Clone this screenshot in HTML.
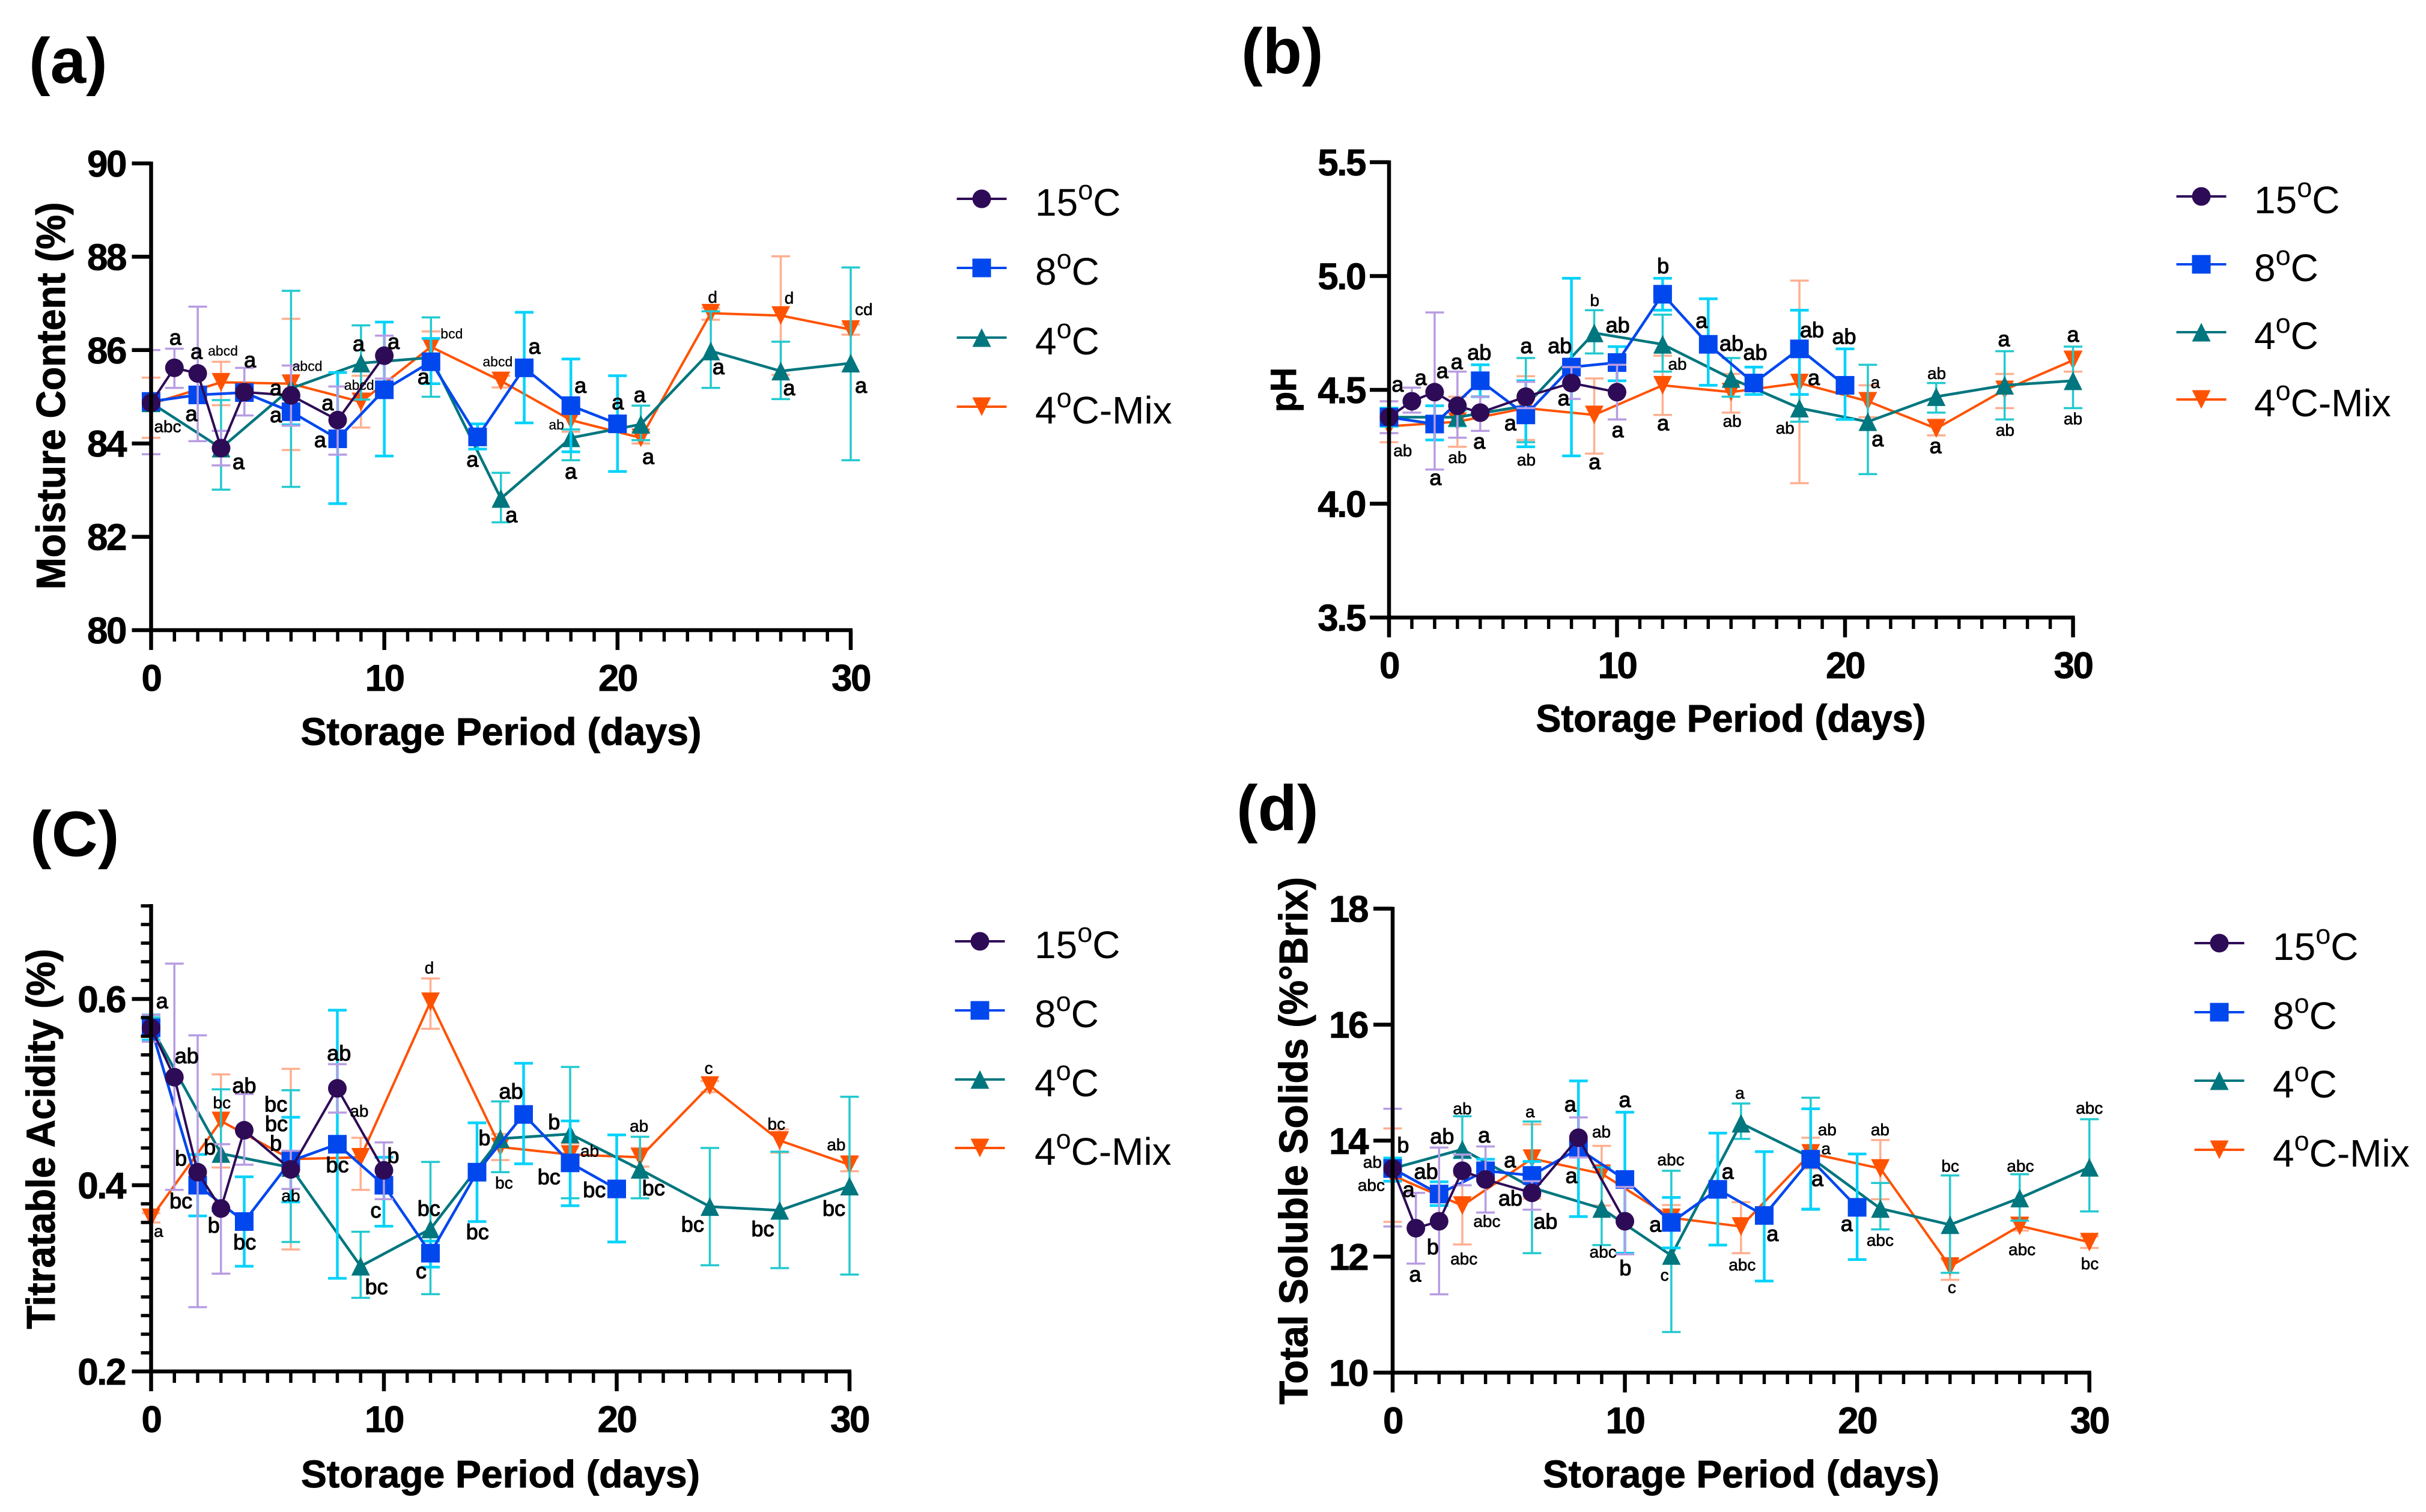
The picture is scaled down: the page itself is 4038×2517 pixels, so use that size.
<!DOCTYPE html>
<html lang="en">
<head>
<meta charset="utf-8">
<title>Storage period charts</title>
<style>
html,body{margin:0;padding:0;background:#fff;}
svg{display:block;}
text{font-family:"Liberation Sans",Arial,sans-serif;fill:#000;}
.tick{font-weight:700;font-size:62px;letter-spacing:-2.5px;stroke:#000;stroke-width:.8px;}
.title{font-weight:700;font-size:64px;stroke:#000;stroke-width:1px;}
.panel{font-weight:700;font-size:107px;}
.legend{font-size:64px;}
.t1{font-size:36px;stroke:#000;stroke-width:1.1px;}
.t2{font-size:28px;stroke:#000;stroke-width:.6px;}
.t3{font-size:23px;stroke:#000;stroke-width:.25px;}
</style>
</head>
<body>
<svg id="figure" xmlns="http://www.w3.org/2000/svg" width="4038" height="2517" viewBox="0 0 4038 2517">
<rect width="4038" height="2517" fill="#fff"/>
<text class="panel" x="48" y="138">(a)</text>
<text class="panel" x="2066" y="122">(b)</text>
<text class="panel" x="50" y="1425">(C)</text>
<text class="panel" x="2058" y="1382">(d)</text>
</svg>
<script>
// Sampling days per series
const days15 = [0,1,2,3,4,6,8,10];
const days8 = [0,2,4,6,8,10,12,14,16,18,20];
const days4 = [0,3,6,9,12,15,18,21,24,27,30];
const daysMix = [0,3,6,9,12,15,18,21,24,27,30];
const seriesNames = ['15','8','4','Mix'];
const legendLabels = ['15','8','4','4'];

// Moisture content
const moisture15 = [84.87,85.62,85.5,83.9,85.1,85.03,84.5,85.88];
const moisture15Hi = [86.0,86.03,86.93,84.27,85.62,85.67,85.22,86.31];
const moisture15Lo = [83.77,85.19,84.05,83.53,84.6,84.38,83.76,85.39];
const moisture8 = [84.9,85.04,85.09,84.68,84.1,85.15,85.75,84.14,85.62,84.81,84.42];
const moisture8Hi = [85.05,85.2,85.2,84.95,85.52,86.6,86.25,84.42,86.81,85.81,85.45];
const moisture8Lo = [84.75,84.88,84.98,84.4,82.71,83.73,85.28,83.88,84.44,83.82,83.4];
const moisture4 = [84.87,83.9,85.18,85.72,85.84,82.82,84.12,84.41,85.98,85.55,85.72];
const moisture4Hi = [85.0,84.93,87.27,86.53,86.7,83.37,84.3,84.81,86.83,86.18,87.77];
const moisture4Lo = [84.7,83.01,83.07,84.94,85.0,82.31,83.64,84.07,85.19,84.95,83.64];
const moistureMix = [84.85,85.31,85.28,84.89,86.07,85.34,84.5,84.12,86.79,86.74,86.44];
const moistureMixHi = [85.41,85.75,86.67,85.45,86.4,85.45,84.75,84.25,86.9,88.01,86.55];
const moistureMixLo = [84.12,84.82,83.86,84.34,85.72,85.2,84.25,84.0,86.65,85.47,86.33];
const moistureTicks = [80,82,84,86,88,90];
const moistureNotes = [
[1.04,86.25,'a',1],[1.95,85.95,'a',1],[3.08,85.97,'abcd',3],[4.24,85.77,'a',1],[5.35,85.17,'a',1],[6.7,85.64,'abcd',3],[7.57,84.85,'a',1],[8.92,85.24,'abcd',3],[8.9,86.12,'a',1],[10.4,86.16,'a',1],[11.68,85.41,'a',1],[12.89,86.34,'bcd',3],[16.44,86.06,'a',1],[14.86,85.74,'abcd',3],[18.41,85.22,'a',1],[20.01,84.87,'a',1],[20.95,85.02,'a',1],[17.38,84.39,'ab',3],[24.08,87.12,'d',2],[27.36,87.1,'d',2],[30.56,86.86,'cd',2],[24.33,85.62,'a',1],[27.36,85.17,'a',1],[30.44,85.22,'a',1],[21.32,83.7,'a',1],[18,83.38,'a',1],[13.78,83.64,'a',1],[15.45,82.45,'a',1],[7.25,84.06,'a',1],[5.35,84.59,'a',1],[1.73,84.62,'a',1],[3.75,83.59,'a',1],[0.71,84.35,'abc',2]];

// pH
const ph15 = [4.38,4.45,4.49,4.43,4.40,4.47,4.53,4.49];
const ph15Hi = [4.45,4.51,4.84,4.58,4.47,4.535,4.60,4.61];
const ph15Lo = [4.31,4.40,4.15,4.29,4.32,4.42,4.46,4.37];
const ph8 = [4.38,4.35,4.54,4.39,4.60,4.62,4.92,4.70,4.53,4.68,4.52];
const ph8Hi = [4.42,4.43,4.61,4.54,4.99,4.69,4.99,4.90,4.60,4.85,4.68];
const ph8Lo = [4.34,4.28,4.47,4.25,4.21,4.54,4.85,4.52,4.48,4.48,4.37];
const ph4 = [4.38,4.38,4.43,4.75,4.70,4.55,4.42,4.36,4.47,4.52,4.54];
const ph4Hi = [4.41,4.41,4.64,4.85,4.83,4.64,4.48,4.61,4.53,4.67,4.69];
const ph4Lo = [4.35,4.34,4.27,4.66,4.58,4.47,4.36,4.13,4.40,4.37,4.42];
const phMix = [4.34,4.36,4.42,4.39,4.52,4.49,4.53,4.45,4.33,4.50,4.63];
const phMixHi = [4.38,4.47,4.56,4.55,4.65,4.57,4.98,4.52,4.37,4.57,4.67];
const phMixLo = [4.27,4.25,4.28,4.22,4.39,4.40,4.09,4.38,4.30,4.42,4.58];
const phTicks = ['3.5','4.0','4.5','5.0','5.5'];
const phNotes = [
[0.38,4.52,'a',1],[1.39,4.55,'a',1],[2.34,4.58,'a',1],[2.97,4.62,'a',1],[3.96,4.66,'ab',1],[6.02,4.69,'a',1],[7.49,4.69,'ab',1],[9.02,4.89,'b',2],[10.03,4.78,'ab',1],[12.02,5.04,'b',1],[13.71,4.80,'a',1],[15.02,4.70,'ab',1],[16.06,4.66,'ab',1],[18.55,4.76,'ab',1],[18.63,4.55,'a',1],[19.96,4.73,'ab',1],[21.33,4.53,'a',2],[24.02,4.57,'ab',2],[26.97,4.72,'a',1],[30,4.74,'a',1],[12.65,4.61,'ab',2],[0.6,4.23,'ab',2],[3,4.2,'ab',2],[2.04,4.11,'a',1],[3.96,4.27,'a',1],[6.02,4.19,'ab',2],[5.32,4.35,'a',1],[7.66,4.46,'a',1],[9.02,4.18,'a',1],[10.03,4.32,'a',1],[12.02,4.35,'a',1],[15.05,4.36,'ab',2],[17.37,4.33,'ab',2],[21.43,4.28,'a',1],[23.97,4.25,'a',1],[27.02,4.32,'ab',2],[30,4.37,'ab',2]];

// Titratable acidity
const acid15 = [0.569,0.516,0.414,0.375,0.459,0.417,0.504,0.416];
const acid15Hi = [0.583,0.638,0.561,0.444,0.498,0.437,0.53,0.446];
const acid15Lo = [0.554,0.395,0.269,0.305,0.422,0.396,0.478,0.385];
const acid8 = [0.569,0.40,0.361,0.426,0.444,0.40,0.327,0.414,0.476,0.424,0.396];
const acid8Hi = [0.583,0.433,0.409,0.473,0.588,0.43,0.34,0.467,0.531,0.469,0.454];
const acid8Lo = [0.556,0.367,0.313,0.382,0.30,0.356,0.312,0.361,0.423,0.378,0.339];
const acid4 = [0.57,0.434,0.419,0.313,0.353,0.45,0.455,0.417,0.377,0.373,0.399];
const acid4Hi = [0.58,0.503,0.502,0.35,0.425,0.49,0.527,0.452,0.44,0.436,0.495];
const acid4Lo = [0.56,0.372,0.339,0.279,0.283,0.414,0.386,0.386,0.314,0.311,0.304];
const acidMix = [0.365,0.469,0.428,0.43,0.597,0.441,0.433,0.43,0.507,0.448,0.422];
const acidMixHi = [0.37,0.519,0.525,0.451,0.622,0.455,0.445,0.44,0.512,0.46,0.43];
const acidMixLo = [0.36,0.419,0.331,0.395,0.568,0.427,0.42,0.42,0.5,0.435,0.415];
const acidTicks = ['0.2','0.4','0.6'];
const acidNotes = [
[0.47,0.597,'a',1],[1.53,0.538,'ab',1],[3.04,0.488,'bc',2],[4,0.506,'ab',1],[5.36,0.486,'bc',1],[5.38,0.465,'bc',1],[5.36,0.444,'b',1],[2.52,0.44,'b',1],[1.28,0.428,'b',1],[8.07,0.541,'ab',1],[8.94,0.479,'ab',2],[10.4,0.431,'b',1],[11.95,0.633,'d',2],[15.46,0.5,'ab',1],[15.16,0.402,'bc',2],[14.32,0.45,'b',1],[17.31,0.467,'b',1],[18.84,0.436,'ab',2],[17.09,0.408,'bc',1],[19.04,0.394,'bc',1],[20.96,0.463,'ab',2],[21.58,0.396,'bc',1],[23.95,0.525,'c',2],[26.86,0.465,'bc',2],[29.43,0.443,'ab',2],[23.26,0.357,'bc',1],[26.27,0.352,'bc',1],[29.33,0.374,'bc',1],[11.93,0.374,'bc',1],[14.02,0.349,'bc',1],[11.6,0.307,'c',1],[9.68,0.29,'bc',1],[9.65,0.372,'c',1],[8,0.421,'bc',1],[6,0.388,'ab',2],[4.02,0.338,'bc',1],[2.69,0.356,'b',1],[1.28,0.382,'bc',1],[0.32,0.35,'a',2]];

// Total soluble solids
const solids15 = [13.52,12.49,12.61,13.48,13.33,13.1,14.05,12.61];
const solids15Hi = [14.55,13.1,13.88,13.76,13.9,13.3,14.4,13.2];
const solids15Lo = [12.52,11.88,11.35,13.23,12.76,12.81,13.71,12.04];
const solids8 = [13.52,13.08,13.48,13.4,13.86,13.33,12.59,13.16,12.71,13.68,12.85];
const solids8Hi = [13.7,13.29,13.68,13.64,15.03,14.49,13.02,14.13,13.81,14.55,13.77];
const solids8Lo = [13.3,12.88,13.3,13.15,12.69,12.06,12.15,12.2,11.58,12.82,11.95];
const solids4 = [13.52,13.85,13.19,12.83,12.02,14.3,13.71,12.83,12.55,13.01,13.54];
const solids4Hi = [13.7,14.42,14.33,13.54,13.48,14.64,14.74,13.27,13.4,13.42,14.37];
const solids4Lo = [13.3,13.7,12.06,12.2,10.7,14.03,12.81,12.47,11.72,12.62,12.78];
const solidsMix = [13.4,12.88,13.69,13.43,12.67,12.52,13.78,13.52,11.83,12.53,12.25];
const solidsMixHi = [14.21,13.4,14.28,13.91,12.89,12.94,14.05,14.01,11.95,12.67,12.35];
const solidsMixLo = [12.6,12.21,13.0,12.88,12.45,12.06,13.52,12.99,11.6,12.45,12.15];
const solidsTicks = [10,12,14,16,18];
const solidsNotes = [
[0.45,13.91,'b',1],[-0.87,13.62,'ab',2],[-0.92,13.22,'abc',2],[0.69,13.14,'a',1],[1.44,13.45,'ab',1],[2.13,14.06,'ab',1],[3,14.54,'ab',2],[3.94,14.08,'a',1],[5.05,13.65,'a',1],[5.92,14.49,'a',2],[7.65,14.61,'a',1],[8.99,14.14,'ab',2],[10,14.69,'a',1],[7.7,13.38,'a',1],[5.07,12.99,'ab',1],[6.58,12.59,'ab',1],[4.06,12.6,'abc',2],[3.07,11.95,'abc',2],[1.73,12.15,'b',1],[0.97,11.68,'a',1],[9.06,12.07,'abc',2],[10.02,11.79,'b',1],[11.31,12.54,'a',1],[11.98,13.66,'abc',2],[11.71,11.67,'c',2],[14.95,14.81,'a',2],[14.43,13.45,'a',1],[15.05,11.85,'abc',2],[16.36,12.38,'a',1],[18.29,13.33,'a',1],[18.66,13.85,'a',2],[18.71,14.18,'ab',2],[19.55,12.55,'a',1],[20.99,14.18,'ab',2],[20.99,12.27,'abc',2],[24.01,13.55,'bc',2],[24.08,11.46,'c',2],[27.03,13.55,'abc',2],[27.1,12.11,'abc',2],[30,14.55,'abc',2],[30.02,11.87,'bc',2]];

const xTickLabels = [0,10,20,30];
const NS = 'http://www.w3.org/2000/svg';
const root = document.getElementById('figure');
const style = {
  '15': {line:'#2e0b57', err:'#b79ce2', lw:4, ew:3.5, marker:'circle'},
  '8': {line:'#0047ee', err:'#00d2fb', lw:4.5, ew:4.5, marker:'square'},
  '4': {line:'#00767e', err:'#22c9cf', lw:4.5, ew:3.5, marker:'up'},
  'Mix': {line:'#ff5200', err:'#ffaf90', lw:4, ew:3.5, marker:'down'}
};
const MS = 15.5;

function mk(tag, attrs, parent, text) {
  const n = document.createElementNS(NS, tag);
  for (const k in attrs) n.setAttribute(k, attrs[k]);
  if (text !== undefined) n.textContent = text;
  parent.appendChild(n);
  return n;
}

function drawMarker(kind, cx, cy, color, parent) {
  let el;
  if (kind === 'circle') {
    el = mk('circle', {cx:cx, cy:cy, r:MS, fill:color}, parent);
  } else if (kind === 'square') {
    el = mk('rect', {x:cx-MS, y:cy-MS, width:MS*2, height:MS*2, fill:color}, parent);
  } else if (kind === 'up') {
    el = mk('polygon', {points:[[cx,cy-MS],[cx+MS,cy+MS],[cx-MS,cy+MS]].join(' '), fill:color}, parent);
  } else {
    el = mk('polygon', {points:[[cx,cy+MS],[cx+MS,cy-MS],[cx-MS,cy-MS]].join(' '), fill:color}, parent);
  }
  
  
  return el;
}

function drawPanel(p) {
  const g = mk('g', {}, root);
  
  
  const sx = d => p.x0 + (d / 30) * (p.x30 - p.x0);
  const sy = v => p.yBottom - (v - p.vMin) / (p.vMax - p.vMin) * (p.yBottom - p.yTop);

  // series, back to front
  p.series.forEach(s => {
    const st = style[s.key];
    const sg = mk('g', {}, g);
    
    
    s.days.forEach((d, i) => {
      const eb = mk('path', {
        d: 'M' + sx(d) + ' ' + sy(s.hi[i]) + 'V' + sy(s.lo[i]) +
           'M' + (sx(d)-15.5) + ' ' + sy(s.hi[i]) + 'h31' +
           'M' + (sx(d)-15.5) + ' ' + sy(s.lo[i]) + 'h31',
        fill:'none', stroke:st.err, 'stroke-width':st.ew
      }, sg);
      
      
    });
    const line = mk('polyline', {
      points: s.days.map((d, i) => sx(d) + ',' + sy(s.vals[i])).join(' '),
      fill:'none', stroke:st.line, 'stroke-width':st.lw, 'stroke-linejoin':'miter'
    }, sg);
    
    
    s.days.forEach((d, i) => drawMarker(st.marker, sx(d), sy(s.vals[i]), st.line, sg));
  });

  // axes
  const ax = mk('g', {stroke:'#000', fill:'none'}, g);
  
  
  const yAxis = mk('line', {x1:p.x0, x2:p.x0, y1:p.yTop-3, y2:p.yBottom+3, 'stroke-width':6.5}, ax);
  
  
  const xAxis = mk('line', {x1:p.x0-3, x2:p.x30+3, y1:p.yBottom, y2:p.yBottom, 'stroke-width':6.5}, ax);
  
  

  for (let d = 0; d <= 30; d++) {
    const major = d % 10 === 0;
    const t = mk('line', {x1:sx(d), x2:sx(d), y1:p.yBottom, y2:p.yBottom + (major ? 33 : 19), 'stroke-width': major ? 6.5 : 5.5}, ax);
    
    
  }
  if (p.minor) {
    const n = Math.round((p.vMax - p.vMin) / p.minor);
    for (let i = 0; i <= n; i++) {
      const t = mk('line', {x1:p.x0 - 17, x2:p.x0, y1:sy(p.vMin + i * p.minor), y2:sy(p.vMin + i * p.minor), 'stroke-width':5.5}, ax);
      
      
    }
  }
  p.yTicks.forEach(v => {
    const t = mk('line', {x1:p.x0 - 32, x2:p.x0, y1:sy(+v), y2:sy(+v), 'stroke-width':6.5}, ax);
    
    
    const l = mk('text', {class:'tick', x:p.yLabelRight, y:sy(+v) + 22, 'text-anchor':'end'}, g, String(v));
    
    
  });
  xTickLabels.forEach(d => {
    const l = mk('text', {class:'tick', x:sx(d), y:p.yBottom + p.xLabelDrop, 'text-anchor':'middle'}, g, String(d));
    
    
  });

  // titles
  const xt = mk('text', {class:'title', x:p.xTitle[0], y:p.xTitle[1], 'text-anchor':'middle', textLength:p.xTitle[2], lengthAdjust:'spacingAndGlyphs'}, g, 'Storage Period (days)');
  
  
  const yt = mk('text', {class:'title', 'font-size':p.yTitle[3], style:'font-size:' + p.yTitle[3] + 'px', 'text-anchor':'middle', transform:'translate(' + p.yTitle[0] + ' ' + p.yTitle[1] + ') rotate(-90)', textLength:p.yTitle[2], lengthAdjust:'spacingAndGlyphs'}, g, p.yLabel);
  
  

  // significance letters
  p.notes.forEach(n => {
    const t = mk('text', {class:'t' + n[3], x:sx(n[0]), y:sy(n[1]), dy:'.3em', 'text-anchor':'middle'}, g, n[2]);
    
    
  });

  // legend
  const lg = mk('g', {}, g);
  
  
  seriesNames.forEach((key, i) => {
    const st = style[key];
    const row = p.legend.rows[i];
    const e = mk('g', {}, lg);
    
    
    const sw = mk('line', {x1:p.legend.cx - 41.5, x2:p.legend.cx + 41.5, y1:row, y2:row, stroke:st.line, 'stroke-width':4}, e);
    
    
    drawMarker(st.marker, p.legend.cx, row, st.line, e);
    const t = mk('text', {class:'legend', x:p.legend.tx, y:row + 28}, e);
    
    
    mk('tspan', {}, t, legendLabels[i]);
    mk('tspan', {'font-size':45, dy:-27}, t, 'o');
    mk('tspan', {dy:27}, t, key === 'Mix' ? 'C-Mix' : 'C');
  });
}

function seriesSet(v15, h15, l15, v8, h8, l8, v4, h4, l4, vm, hm, lm) {
  return [
    {key:'Mix', days:daysMix, vals:vm, hi:hm, lo:lm},
    {key:'4', days:days4, vals:v4, hi:h4, lo:l4},
    {key:'8', days:days8, vals:v8, hi:h8, lo:l8},
    {key:'15', days:days15, vals:v15, hi:h15, lo:l15}
  ];
}

drawPanel({
  name:'moisture', x0:251.5, x30:1416, yBottom:1049, yTop:272, vMin:80, vMax:90,
  yTicks:moistureTicks, yLabelRight:209, xLabelDrop:101, xTitle:[834,1240,667], yTitle:[108,659,645,68],
  yLabel:'Moisture Content (%)', notes:moistureNotes,
  legend:{cx:1634, tx:1723, rows:[331,446,562,677]},
  series:seriesSet(moisture15,moisture15Hi,moisture15Lo,moisture8,moisture8Hi,moisture8Lo,moisture4,moisture4Hi,moisture4Lo,moistureMix,moistureMixHi,moistureMixLo)
});
drawPanel({
  name:'ph', x0:2312, x30:3450.5, yBottom:1028, yTop:270, vMin:3.5, vMax:5.5,
  yTicks:phTicks, yLabelRight:2272, xLabelDrop:101, xTitle:[2881,1218,649], yTitle:[2157,649,74,60],
  yLabel:'pH', notes:phNotes,
  legend:{cx:3664, tx:3752, rows:[327,440,553,665]},
  series:seriesSet(ph15,ph15Hi,ph15Lo,ph8,ph8Hi,ph8Lo,ph4,ph4Hi,ph4Lo,phMix,phMixHi,phMixLo)
});
drawPanel({
  name:'acidity', x0:251.5, x30:1414, yBottom:2283, yTop:1508, vMin:0.2, vMax:0.7, minor:0.02,
  yTicks:acidTicks, yLabelRight:208, xLabelDrop:101, xTitle:[833,2476,664], yTitle:[91,1896,633,67],
  yLabel:'Titratable Acidity (%)', notes:acidNotes,
  legend:{cx:1631, tx:1722, rows:[1567,1682,1797,1911]},
  series:seriesSet(acid15,acid15Hi,acid15Lo,acid8,acid8Hi,acid8Lo,acid4,acid4Hi,acid4Lo,acidMix,acidMixHi,acidMixLo)
});
drawPanel({
  name:'solids', x0:2318, x30:3477.7, yBottom:2285, yTop:1512.6, vMin:10, vMax:18,
  yTicks:solidsTicks, yLabelRight:2276, xLabelDrop:101, xTitle:[2898,2476,660], yTitle:[2176,1899,878,67],
  yLabel:'Total Soluble Solids (%°Brix)', notes:solidsNotes,
  legend:{cx:3694, tx:3783, rows:[1570,1685,1799,1914]},
  series:seriesSet(solids15,solids15Hi,solids15Lo,solids8,solids8Hi,solids8Lo,solids4,solids4Hi,solids4Lo,solidsMix,solidsMixHi,solidsMixLo)
});
</script>
</body>
</html>
